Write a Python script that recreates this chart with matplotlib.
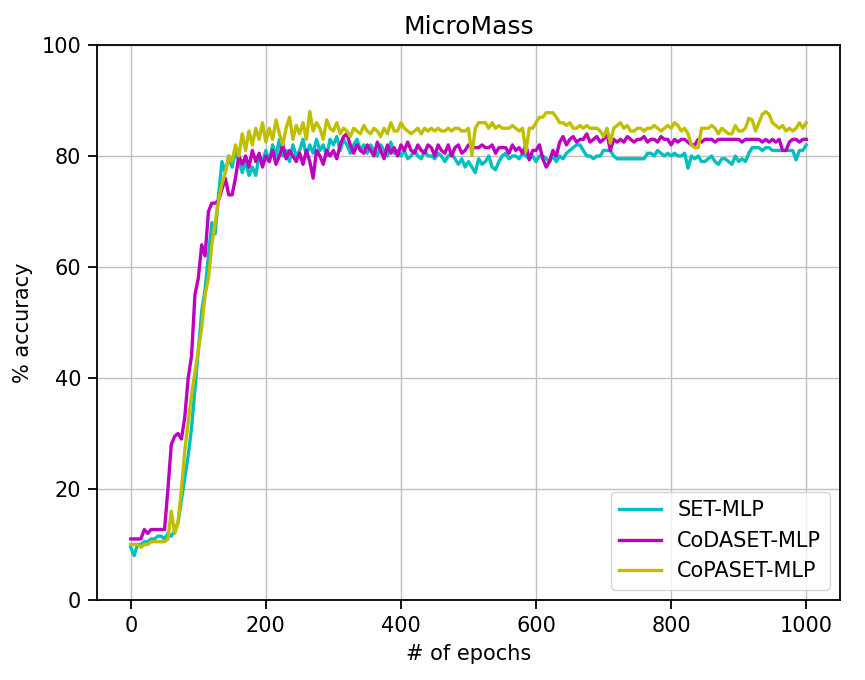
import numpy as np
import matplotlib
matplotlib.use("Agg")
import matplotlib.pyplot as plt

step = 5
set_mlp = [
    9.5, 8, 10, 10, 10.5, 10.5, 11, 11, 11.5, 11.5,
    11, 12, 11.5, 12.5, 14, 18, 22, 26, 31, 38,
    45, 52, 56, 62, 68, 66, 73, 79, 77, 80,
    78, 81, 79, 77, 79, 76.5, 78, 76.5, 80, 79,
    81, 79, 82, 80, 83, 80, 81, 79, 82, 80,
    81, 83, 80, 82, 80.5, 83, 81, 82, 80, 83,
    82, 83.5, 81, 83, 82, 80.5, 82, 83, 81, 82,
    80.5, 82, 81, 80, 82, 81, 80, 82.5, 80.5, 81,
    80, 81, 79.5, 80, 81, 80, 79.5, 81, 80, 80,
    79.5, 80.5, 80, 79, 80, 80.5, 79.5, 78.5, 79.5, 78,
    79, 78, 77, 79.5, 78.5, 79, 80, 78, 77.5, 79,
    80, 80.5, 79.5, 80, 80, 79.5, 80.5, 80, 79.5, 80,
    79, 80, 80, 79.5, 79, 80, 79, 80, 79.5, 80.5,
    81, 81.5, 82, 82, 81, 80, 80, 79.5, 80, 80,
    81, 81, 81, 80, 79.5, 79.5, 79.5, 79.5, 79.5, 79.5,
    79.5, 79.5, 79.5, 80.5, 80.5, 80, 81, 80.5, 80, 80.5,
    80, 80.5, 80, 80, 80.5, 77.8, 80, 79.5, 80, 79,
    79, 79.5, 80, 79, 78.5, 79.5, 79.5, 79, 78.5, 80,
    79, 79.5, 79, 80.5, 81.5, 81.5, 81.5, 81, 81.5, 81.5,
    81, 81, 81, 81, 81, 81, 81, 79.3, 81, 81,
    82,
]
codaset_mlp = [
    11, 11, 11, 11, 12.7, 12, 12.7, 12.7, 12.7, 12.7,
    12.7, 20, 28, 29.5, 30, 29, 33, 40, 44, 55,
    58, 64, 62, 70, 71.5, 71.5, 72, 74, 76, 73,
    73, 76, 80, 78.5, 80, 78, 81, 79, 80.5, 78,
    80, 79, 81, 78.5, 80, 82, 79.5, 81, 80, 79,
    80.5, 78.5, 81, 79, 76, 81, 80, 78.5, 81, 80,
    81, 79.5, 82, 83.5, 84, 82, 80.5, 82, 81, 80.5,
    82, 81, 80, 82.5, 81, 79.5, 82, 80.5, 81.5, 80,
    82, 81, 82.5, 81, 80.5, 82, 81, 80.5, 82, 81.5,
    80, 82, 81, 80.5, 82, 80, 81.5, 82, 80.5, 81,
    82, 81.5, 81.5, 81.5, 82, 81.5, 81.5, 82, 80.5, 81.5,
    81.5, 81.5, 80.5, 82, 81, 81.5, 80.5, 82, 79.3, 81,
    81, 82, 79.5, 78, 79, 81, 80, 82.5, 83.5, 82,
    83, 83.5, 82.5, 83, 83, 84, 82.5, 83, 83.5, 82.5,
    83, 84, 81, 83, 82.5, 83, 82.5, 83.5, 83, 82.5,
    83, 83, 83.5, 82.5, 83, 83, 82.5, 83.5, 83, 83,
    82, 83, 82.5, 83, 83, 82.5, 82, 82, 83, 82.5,
    83, 83, 83, 82.5, 83, 83, 83, 83, 83, 83,
    83, 82.5, 83, 83, 83, 83, 83, 82.5, 83, 82.5,
    83, 82.5, 83, 81, 81, 82.5, 83, 83, 82.5, 83,
    83,
]
copaset_mlp = [
    10, 10, 10, 9.5, 10, 10, 10.5, 10.5, 10.5, 10.5,
    10.5, 11, 16, 12, 14, 20, 27, 32, 37, 41,
    45, 49, 55, 58, 64, 68, 72, 75, 77, 80,
    79, 82, 80, 84, 81, 84.5, 82, 85, 83, 86,
    82.5, 85, 83, 86.5, 84, 82, 85, 87, 83, 85.5,
    84, 86, 83, 88, 84.5, 86, 85, 83, 86.5, 85,
    84.5, 86, 84, 85, 84.5, 83.5, 85, 84.5, 84, 85.5,
    84.5, 84, 85, 84.5, 83.5, 85, 84, 86, 84.5, 84.5,
    86, 85, 84.5, 84, 84.5, 85, 84, 85, 84.5, 85,
    84.5, 85, 84.5, 84.5, 85, 84.5, 85, 85, 84.5, 84.5,
    85, 80.1, 85, 86, 86, 86, 85, 86, 85, 85.5,
    85, 85, 85, 85.5, 85, 84.5, 85, 80.8, 85, 85,
    86, 87, 87, 87.8, 87.8, 87.8, 87, 86, 86, 85.5,
    86, 85, 85, 85.5, 85, 85.5, 85, 85, 85, 84.5,
    83.5, 85, 82.3, 85, 85.5, 86, 85, 85.5, 84.5, 84.5,
    85, 85, 84.5, 85, 85, 85.5, 85, 84.5, 85, 85.5,
    85, 86, 85.5, 84.5, 85, 84, 82, 81.5, 81.5, 85,
    85, 85, 85.5, 85, 84, 85, 84.5, 84, 84, 85.5,
    84.5, 84.5, 85, 86.8, 86.5, 84.5, 86, 87.5, 88, 87.5,
    86, 85.5, 85, 85.5, 84.5, 85, 84.5, 85, 86, 85,
    86,
]
labels = ["SET-MLP", "CoDASET-MLP", "CoPASET-MLP"]
colors = ["c", "m", "y"]

fs = 15
fig = plt.figure(figsize=(8.65, 6.8), dpi=100)
ax = fig.add_axes([97/865, 80/680, 743/865, 555/680])
for series, lab, col in zip([set_mlp, codaset_mlp, copaset_mlp], labels, colors):
    x = np.arange(len(series)) * step
    ax.plot(x, series, color=col, lw=2.4, label=lab)

ax.set_xlim(-50, 1050)
ax.set_ylim(0, 100)
ax.set_xticks(range(0, 1001, 200))
ax.set_yticks(range(0, 101, 20))
ax.grid(True, color="#c0c0c0", lw=1.0)
ax.tick_params(labelsize=fs, length=6.5, width=1.3, pad=5)
for s in ax.spines.values():
    s.set_linewidth(1.3)
ax.set_xlabel("# of epochs", fontsize=fs, labelpad=6)
ax.set_ylabel("% accuracy", fontsize=fs)
ax.yaxis.set_label_coords(-0.086, 0.5)
ax.set_title("MicroMass", fontsize=18, pad=8)
ax.legend(loc="lower right", fontsize=fs, borderaxespad=0.5)
fig.savefig("out.png", dpi=100)
